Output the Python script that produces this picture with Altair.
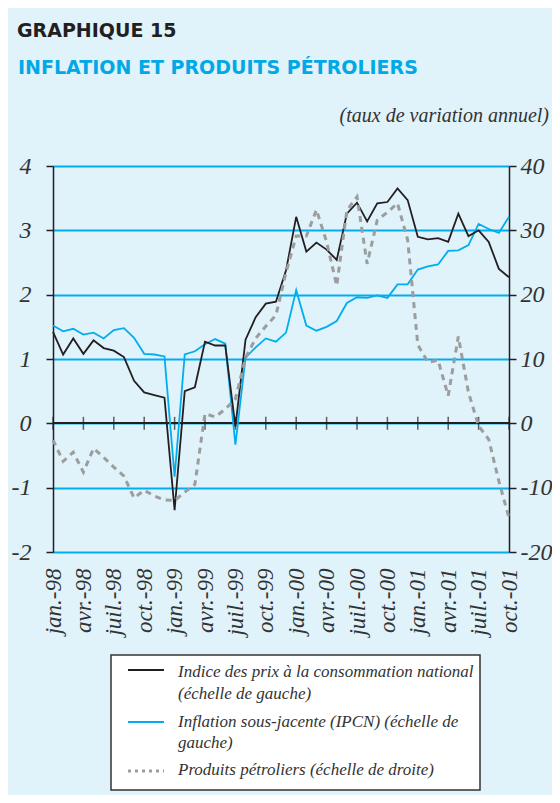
import altair as alt
import pandas as pd

# ---- data (monthly, jan. 1998 -> oct. 2001) ----
months = [str(p) for p in pd.period_range("1998-01", "2001-10", freq="M")]

ipcn = [1.42, 1.07, 1.32, 1.08, 1.29, 1.17, 1.13, 1.03, 0.66, 0.48, 0.44, 0.40,
        -1.35, 0.50, 0.56, 1.27, 1.21, 1.21, -0.05, 1.30, 1.65, 1.86, 1.89, 2.38,
        3.21, 2.67, 2.81, 2.70, 2.54, 3.26, 3.43, 3.14, 3.42, 3.44, 3.65, 3.47,
        2.90, 2.86, 2.88, 2.82, 3.26, 2.91, 3.00, 2.82, 2.40, 2.27]

sous_jacente = [1.52, 1.43, 1.47, 1.38, 1.41, 1.32, 1.45, 1.48, 1.33, 1.08, 1.07, 1.04,
                -0.83, 1.07, 1.12, 1.23, 1.31, 1.24, -0.33, 1.02, 1.18, 1.32, 1.27, 1.41,
                2.07, 1.52, 1.44, 1.50, 1.59, 1.87, 1.96, 1.95, 1.99, 1.95, 2.16, 2.16,
                2.39, 2.44, 2.47, 2.68, 2.69, 2.77, 3.10, 3.02, 2.96, 3.21]

petrole = [-2.6, -5.9, -4.5, -7.6, -3.9, -5.3, -6.8, -8.2, -11.6, -10.4, -11.3, -11.9,
           -12.0, -10.7, -9.5, 1.5, 1.0, 2.2, 3.8, 10.2, 13.2, 15.1, 16.8, 23.5,
           29.1, 29.1, 33.2, 28.2, 21.4, 33.1, 35.2, 24.8, 31.6, 32.8, 34.2, 28.5,
           12.2, 9.5, 9.8, 4.3, 13.5, 4.8, -0.4, -2.5, -9.0, -14.7]

tick_labels = ["jan.-98", "avr.-98", "juil.-98", "oct.-98", "jan.-99", "avr.-99",
               "juil.-99", "oct.-99", "jan.-00", "avr.-00", "juil.-00", "oct.-00",
               "jan.-01", "avr.-01", "juil.-01", "oct.-01"]
left_ticks = [-2, -1, 0, 1, 2, 3, 4]
right_ticks = [-20, -10, 0, 10, 20, 30, 40]

legend_lines = ["Indice des prix à la consommation national", "(échelle de gauche)",
                "Inflation sous-jacente (IPCN) (échelle de", "gauche)",
                "Produits pétroliers (échelle de droite)"]

# ---- styles ----
BG = "#e0f2fa"
DARK = "#231f20"
CYAN = "#00aeef"
GREY = "#9d9d9d"
SERIF = "Liberation Serif"

df = pd.DataFrame({"i": list(range(len(months))), "mois": months,
                   "ipcn": ipcn, "sj": sous_jacente, "petrole": petrole})
tick_pos = [3 * k for k in range(len(tick_labels))]
df_ticks = pd.DataFrame({"i": tick_pos})

label_arr = "[" + ",".join("'" + t + "'" for t in tick_labels) + "]"
x_enc = alt.X("i:Q",
              scale=alt.Scale(domain=[0, len(months) - 1], nice=False, zero=False),
              axis=alt.Axis(values=tick_pos, labelExpr=label_arr + "[round(datum.value/3)]",
                            labelAngle=-90, domain=False, ticks=False, tickSize=0, grid=False,
                            labelFont=SERIF, labelFontStyle="italic", labelFontSize=23,
                            labelColor="#333", labelPadding=16, labelFlush=False,
                            labelOverlap=False, title=None))

yl_scale = alt.Scale(domain=[-2, 4], nice=False, zero=False)
yl_axis = alt.Axis(values=left_ticks, orient="left", grid=True, gridColor=CYAN, gridWidth=2,
                   domainColor=DARK, domainWidth=1.5, tickColor=DARK, tickSize=7, tickWidth=1.5,
                   labelFont=SERIF, labelFontStyle="italic", labelFontSize=24, labelColor="#333",
                   labelPadding=15, labelExpr="datum.value + ''", title=None)
yr_scale = alt.Scale(domain=[-20, 40], nice=False, zero=False)
yr_axis = alt.Axis(values=right_ticks, orient="right", grid=False,
                   domainColor=DARK, domainWidth=1.5, tickColor=DARK, tickSize=7, tickWidth=1.5,
                   labelFont=SERIF, labelFontStyle="italic", labelFontSize=24, labelColor="#333",
                   labelPadding=4, labelExpr="datum.value + ''", title=None)

base = alt.Chart(df)
blue = base.mark_line(color=CYAN, strokeWidth=1.8).encode(
    x=x_enc, y=alt.Y("sj:Q", scale=yl_scale, axis=yl_axis))
black = base.mark_line(color=DARK, strokeWidth=1.8).encode(
    x=x_enc, y=alt.Y("ipcn:Q", scale=yl_scale, axis=yl_axis))
zero = alt.Chart(df_ticks).mark_rule(color=DARK, strokeWidth=1.5).encode(
    y=alt.Y(datum=0, type="quantitative", scale=yl_scale, axis=yl_axis))
ticks = alt.Chart(df_ticks).mark_tick(orient="vertical", size=13, thickness=1.5, color=DARK).encode(
    x=x_enc, y=alt.Y(datum=0, type="quantitative", scale=yl_scale, axis=yl_axis))
left = alt.layer(zero, ticks, blue, black)

grey = base.mark_line(color=GREY, strokeWidth=3, strokeDash=[6, 5]).encode(
    x=x_enc, y=alt.Y("petrole:Q", scale=yr_scale, axis=yr_axis))


def txt(s, x, y, size, color, font=SERIF, style="italic", weight="normal", align="left",
        baseline="middle"):
    return alt.Chart().mark_text(text=s, font=font, fontSize=size, fontStyle=style,
                                 fontWeight=weight, color=color, align=align,
                                 baseline=baseline).encode(x=alt.value(x), y=alt.value(y))


title1 = txt("GRAPHIQUE 15", -36, -129, 19, DARK, font="DejaVu Sans", style="normal",
             weight="bold", baseline="alphabetic")
title2 = txt("INFLATION ET PRODUITS PÉTROLIERS", -35, -92, 19, "#00a9e6", font="DejaVu Sans",
             style="normal", weight="bold", baseline="alphabetic")
unit = txt("(taux de variation annuel)", 496, -50, 20, "#333", align="right")

box = alt.Chart().mark_rect(fill="white", stroke="#333", strokeWidth=1.5).encode(
    x=alt.value(58), x2=alt.value(427), y=alt.value(489), y2=alt.value(624))
sym1 = alt.Chart().mark_rule(color=DARK, strokeWidth=1.8).encode(
    x=alt.value(75), x2=alt.value(111), y=alt.value(504))
sym2 = alt.Chart().mark_rule(color=CYAN, strokeWidth=1.8).encode(
    x=alt.value(75), x2=alt.value(111), y=alt.value(556))
sym3 = alt.Chart().mark_rule(color=GREY, strokeWidth=3, strokeDash=[3, 4]).encode(
    x=alt.value(75), x2=alt.value(111), y=alt.value(605))
leg_y = [506, 528, 556, 577, 604]
leg_texts = [txt(s, 125, yy, 17, "#333") for s, yy in zip(legend_lines, leg_y)]

chart = alt.layer(left, grey, title1, title2, unit, box, sym1, sym2, sym3, *leg_texts).resolve_scale(
    y="independent"
).properties(
    width=456, height=386, background=BG,
    padding={"left": 45, "top": 158, "right": 43, "bottom": 243},
    autosize=alt.AutoSizeParams(type="none"),
).configure_view(stroke=None)

chart.save("out.html", embed_options={"renderer": "svg", "actions": False})
